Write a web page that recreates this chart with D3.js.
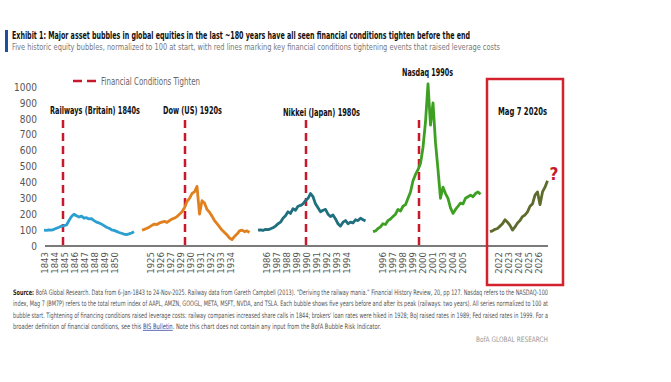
<!DOCTYPE html>
<html>
<head>
<meta charset="utf-8">
<script src="https://cdn.jsdelivr.net/npm/d3@7"></script>
<style>
  body { margin: 0; background: #fff; }
  svg { font-family: "DejaVu Sans Condensed", "Liberation Sans Narrow", "Roboto", sans-serif; }
</style>
</head>
<body>
<script>
// tick labels per bubble (x axis is a broken time axis, one group per bubble)
var railwayTicks = ["1843","1844","1845","1846","1847","1848","1849","1850"];
var dowTicks = ["1925","1926","1927","1929","1930","1931","1932","1933","1934"];
var nikkeiTicks = ["1986","1987","1988","1989","1990","1991","1992","1993","1994"];
var nasdaqTicks = ["1996","1997","1998","1999","2000","2001","2003","2004","2005"];
var mag7Ticks = ["2022","2023","2024","2025","2026"];

// series, normalised to 100 at start, sampled every quarter slot
var railway = [100,98,102,100,105,112,118,125,128,132,160,185,200,190,182,188,175,178,170,172,
  160,150,145,138,128,118,112,102,98,92,85,80,75,72,76,82,90];
var dow = [100,105,112,120,130,138,135,145,150,155,148,160,170,175,185,200,215,240,280,300,
  330,340,375,200,285,270,230,212,188,160,140,120,100,85,70,50,40,60,75,95,100,90,95,85];
var nikkei = [100,102,98,105,103,108,115,125,140,150,175,190,215,205,235,225,250,255,265,285,
  300,330,310,265,240,215,225,230,200,185,195,170,140,125,150,160,140,150,145,165,160,175,165,158];
var nasdaq = [90,95,110,120,140,135,160,170,185,200,230,220,250,260,300,340,410,450,480,520,
  620,780,1020,760,900,650,480,300,370,330,300,240,205,230,250,270,265,300,310,320,310,330,340,325];
var mag7 = [90,95,105,110,125,140,165,150,130,100,120,145,160,185,195,215,250,265,320,340,260,340,370,410];

// where each series starts on the slot axis
var seriesStart = [0, 9.8, 21.4, 32.9, 44.6];
var seriesStep = 0.25;
// red dashed "financial conditions tighten" events on the slot axis
var events = [1.9, 14.1, 26.2, 37.5];

var names = ["Railways (Britain) 1840s", "Dow (US) 1920s", "Nikkei (Japan) 1980s", "Nasdaq 1990s", "Mag 7 2020s"];
var colors = ["#2a9fd0", "#e0801f", "#1f6f7f", "#3da023", "#5d6b2c"];

var width = 671, height = 382;
var svg = d3.select("body").append("svg")
  .attr("width", width).attr("height", height);

// header
svg.append("rect").attr("x", 5).attr("y", 30).attr("width", 3).attr("height", 22).attr("fill", "#1f4e9c");
svg.append("text").attr("x", 12).attr("y", 39)
  .attr("font-size", 10.5).attr("font-weight", "bold").attr("fill", "#111")
  .attr("textLength", 458).attr("lengthAdjust", "spacingAndGlyphs")
  .text("Exhibit 1: Major asset bubbles in global equities in the last ~180 years have all seen financial conditions tighten before the end");
svg.append("text").attr("x", 12).attr("y", 50)
  .attr("font-size", 9.5).attr("fill", "#777")
  .attr("textLength", 488).attr("lengthAdjust", "spacingAndGlyphs")
  .text("Five historic equity bubbles, normalized to 100 at start, with red lines marking key financial conditions tightening events that raised leverage costs");

var x = d3.scaleLinear().domain([0, 49.4]).range([44, 538]);
var y = d3.scaleLinear().domain([0, 1000]).range([246, 87]);

// y axis
var yAxis = svg.append("g").attr("transform", "translate(44,0)")
  .call(d3.axisLeft(y).tickValues(d3.range(0, 1001, 100)).tickFormat(d3.format("d")).tickSize(0).tickPadding(7));
yAxis.select(".domain").remove();
yAxis.selectAll("text").attr("font-size", 10).attr("fill", "#555")
  .attr("font-family", "DejaVu Sans Condensed, Liberation Sans Narrow, sans-serif");

// baseline
svg.append("line").attr("x1", 45).attr("x2", 548).attr("y1", y(0)).attr("y2", y(0))
  .attr("stroke", "#7a7a7a").attr("stroke-width", 2);

// x tick labels
var allTicks = [railwayTicks, dowTicks, nikkeiTicks, nasdaqTicks, mag7Ticks];
var tickData = [];
var idx = 0;
allTicks.forEach(function(g, gi) {
  g.forEach(function(t) {
    tickData.push({label: t, slot: idx + gi * 2.6});
    idx++;
  });
});
svg.append("g").selectAll("text").data(tickData).enter().append("text")
  .attr("transform", function(d) { return "translate(" + (x(d.slot) + 3.5) + ",252)rotate(-90)"; })
  .attr("text-anchor", "end")
  .attr("font-size", 9.5).attr("fill", "#555")
  .text(function(d) { return d.label; });

// event lines
svg.append("g").selectAll("line").data(events).enter().append("line")
  .attr("x1", function(d) { return x(d); }).attr("x2", function(d) { return x(d); })
  .attr("y1", 120).attr("y2", y(0))
  .attr("stroke", "#c8182b").attr("stroke-width", 2.5).attr("stroke-dasharray", "8,5");

// series lines
var allSeries = [railway, dow, nikkei, nasdaq, mag7];
var line = d3.line()
  .x(function(d) { return x(d.s); })
  .y(function(d) { return y(d.v); });
allSeries.forEach(function(vals, si) {
  var pts = vals.map(function(v, i) { return {s: seriesStart[si] + i * seriesStep, v: v}; });
  svg.append("path").datum(pts)
    .attr("d", line)
    .attr("fill", "none")
    .attr("stroke", colors[si])
    .attr("stroke-width", 2.8)
    .attr("stroke-linejoin", "round");
});

// bubble names
var nameY = [114, 114, 116, 76, 115];
var nameX = [50, 163, 283, 402, 498];
var nameW = [90, 59, 77, 51, 49];
names.forEach(function(n, i) {
  svg.append("text").attr("x", nameX[i]).attr("y", nameY[i])
    .attr("font-size", 11).attr("font-weight", "bold").attr("fill", "#111")
    .attr("textLength", nameW[i]).attr("lengthAdjust", "spacingAndGlyphs")
    .text(n);
});

// legend
svg.append("line").attr("x1", 73).attr("x2", 97).attr("y1", 81).attr("y2", 81)
  .attr("stroke", "#c8182b").attr("stroke-width", 2.5).attr("stroke-dasharray", "9,5");
svg.append("text").attr("x", 101).attr("y", 84.5)
  .attr("font-size", 10).attr("fill", "#666")
  .attr("textLength", 99).attr("lengthAdjust", "spacingAndGlyphs")
  .text("Financial Conditions Tighten");

// mag 7 box and question mark
svg.append("rect").attr("x", 487).attr("y", 79).attr("width", 76).attr("height", 206)
  .attr("fill", "none").attr("stroke", "#d3212d").attr("stroke-width", 2.5);
svg.append("text").attr("x", 554).attr("y", 180).attr("text-anchor", "middle")
  .attr("font-size", 17).attr("font-weight", "bold").attr("fill", "#c8182b")
  .text("?");

// source
var source = [
  "Source: BofA Global Research. Data from 6-Jan-1843 to 24-Nov-2025. Railway data from Gareth Campbell (2013). \u201cDeriving the railway mania.\u201d Financial History Review, 20, pp 127. Nasdaq refers to the NASDAQ-100",
  "index, Mag 7 (BM7P) refers to the total return index of AAPL, AMZN, GOOGL, META, MSFT, NVDA, and TSLA. Each bubble shows five years before and after its peak (railways: two years). All series normalized to 100 at",
  "bubble start. Tightening of financing conditions raised leverage costs: railway companies increased share calls in 1844; brokers' loan rates were hiked in 1928; BoJ raised rates in 1989; Fed raised rates in 1999. For a",
  "broader definition of financial conditions, see this BIS Bulletin. Note this chart does not contain any input from the BofA Bubble Risk Indicator."
];
var srcLen = [535, 535, 535, 368];
source.forEach(function(s, i) {
  var t = svg.append("text").attr("x", 13).attr("y", 295 + i * 11.3)
    .attr("font-size", 7.5).attr("fill", "#555")
    .attr("textLength", srcLen[i]).attr("lengthAdjust", "spacingAndGlyphs");
  if (i === 0) {
    t.append("tspan").attr("font-weight", "bold").attr("fill", "#222").text("Source:");
    t.append("tspan").text(s.slice(7));
  } else if (i === 3) {
    var k = s.indexOf("BIS Bulletin");
    t.append("tspan").text(s.slice(0, k));
    t.append("tspan").attr("fill", "#2b3f9e").attr("text-decoration", "underline").text("BIS Bulletin");
    t.append("tspan").text(s.slice(k + 12));
  } else {
    t.text(s);
  }
});
svg.append("text").attr("x", 548).attr("y", 342).attr("text-anchor", "end")
  .attr("font-size", 7.5).attr("fill", "#999")
  .attr("textLength", 72).attr("lengthAdjust", "spacingAndGlyphs")
  .text("BofA GLOBAL RESEARCH");
</script>
</body>
</html>
